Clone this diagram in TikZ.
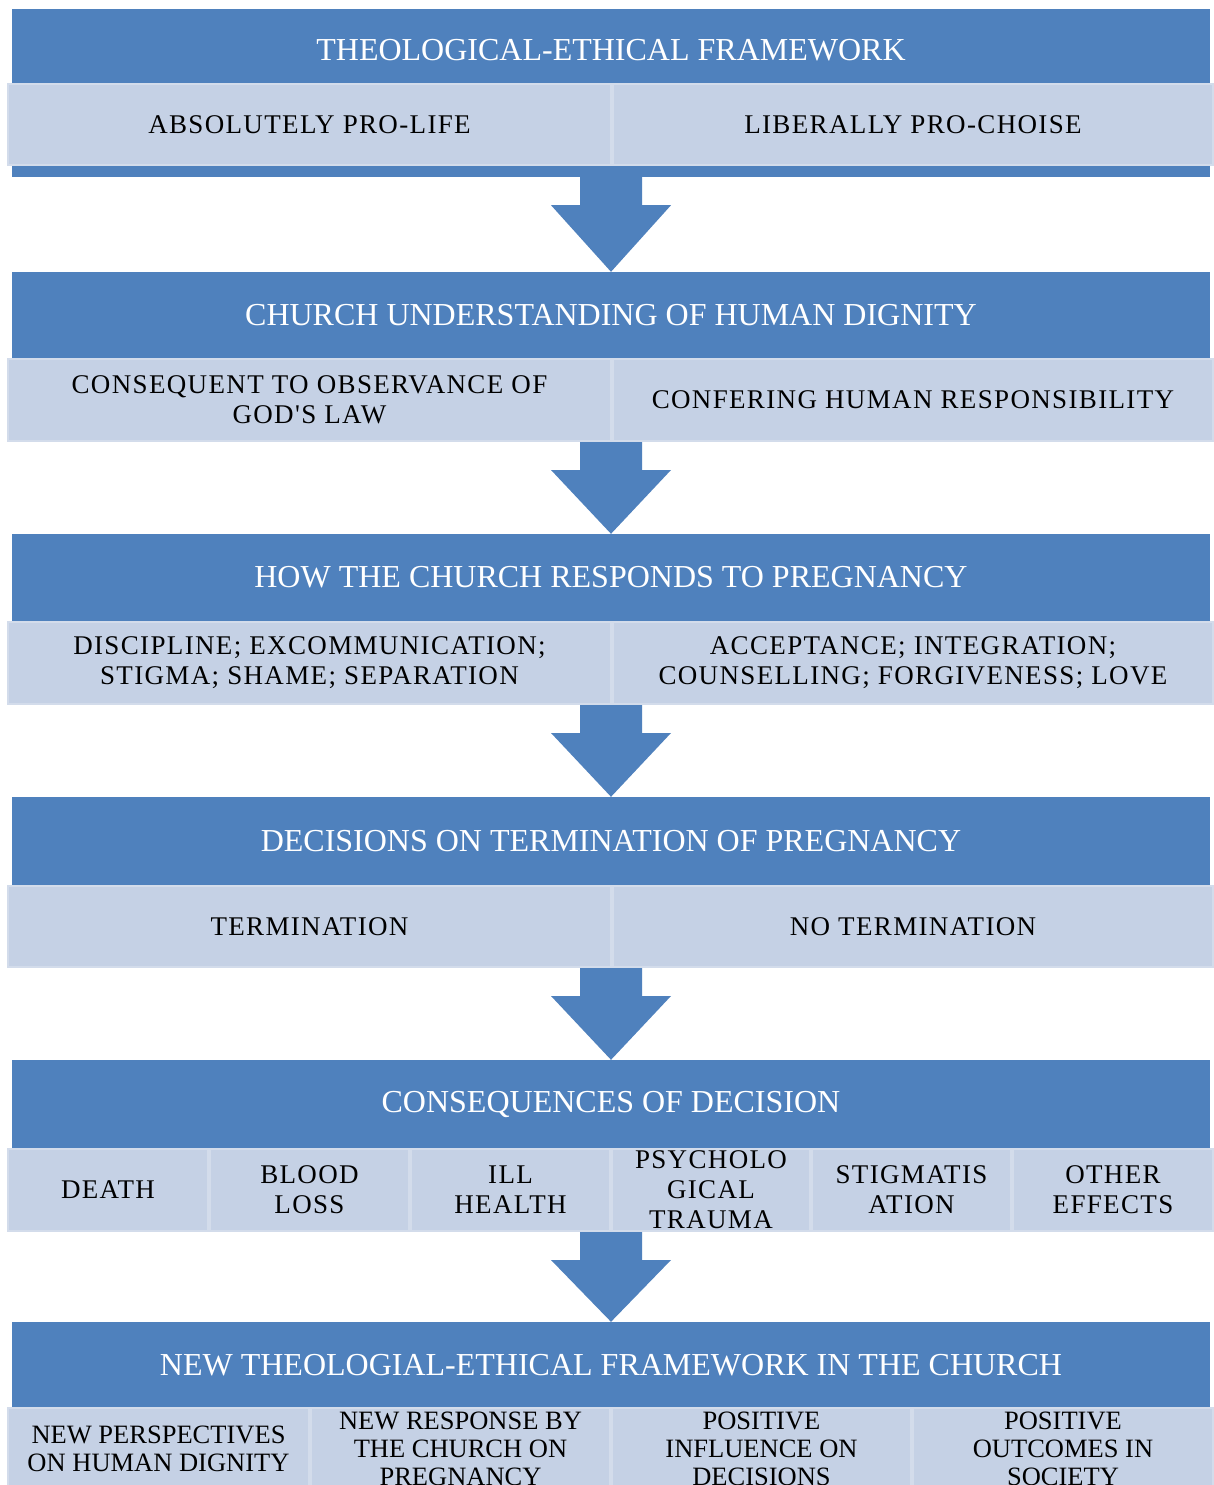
\documentclass[tikz,border=0pt]{standalone}
\usepackage{fontspec}
\setmainfont{Liberation Serif}
\newfontfamily\cellfont[LetterSpace=5]{Liberation Serif}
\usetikzlibrary{calc}
\definecolor{hdrblue}{HTML}{4F81BD}
\definecolor{cellfill}{HTML}{C5D1E5}
\definecolor{cellline}{HTML}{D3DCEB}
\newcommand\blockarr[2]{%
  \path[blockarrow] let \p1=(#1), \p2=(#2) in
    (580pt,\y1) -- (642pt,\y1) -- (642pt,\y1-28pt) -- (671pt,\y1-28pt)
    -- (611pt,\y2) -- (551pt,\y1-28pt) -- (580pt,\y1-28pt) -- cycle;}
\begin{document}
\begin{tikzpicture}[x=1pt,y=-1pt,
  hdr/.style={fill=hdrblue, draw=none, minimum width=1198pt, inner sep=0pt,
    text=white, font=\fontsize{32}{36}\selectfont},
  hdrbase/.style={fill=hdrblue, draw=none, minimum width=1198pt, inner sep=0pt},
  cell/.style={fill=cellfill, draw=cellline, line width=2pt, inner sep=0pt,
    align=center, text=black, font=\cellfont\fontsize{27}{30}\selectfont},
  cellsix/.style={cell, font=\fontsize{26.5}{28}\selectfont},
  blockarrow/.style={fill=hdrblue, draw=none}]
\path[use as bounding box] (0,0) rectangle (1214,1485);
\clip (0,0) rectangle (1214,1485);
\fill[white] (0,0) rectangle (1214,1485);

% Section 1
\node[hdr, minimum height=82pt] (h1) at (611,50) {THEOLOGICAL-ETHICAL FRAMEWORK};
\node[hdrbase, minimum height=94pt] (h1b) at (611,130) {};
\node[cell, minimum width=603pt, minimum height=81pt] (c11) at (309.5,124.5) {ABSOLUTELY PRO-LIFE};
\node[cell, minimum width=600pt, minimum height=81pt] (c12) at (913,124.5) {LIBERALLY PRO-CHOISE};

% Section 2
\node[hdr, minimum height=86pt] (h2) at (611,315) {CHURCH UNDERSTANDING OF HUMAN DIGNITY};
\node[cell, minimum width=603pt, minimum height=82pt] (c21) at (309.5,400) {CONSEQUENT TO OBSERVANCE OF\\GOD'S LAW};
\node[cell, minimum width=600pt, minimum height=82pt] (c22) at (913,400) {CONFERING HUMAN RESPONSIBILITY};

% Section 3
\node[hdr, minimum height=87pt] (h3) at (611,577.5) {HOW THE CHURCH RESPONDS TO PREGNANCY};
\node[cell, minimum width=603pt, minimum height=82pt] (c31) at (309.5,663) {DISCIPLINE; EXCOMMUNICATION;\\STIGMA; SHAME; SEPARATION};
\node[cell, minimum width=600pt, minimum height=82pt] (c32) at (913,663) {ACCEPTANCE; INTEGRATION;\\COUNSELLING; FORGIVENESS; LOVE};

% Section 4
\node[hdr, minimum height=88pt] (h4) at (611,841) {DECISIONS ON TERMINATION OF PREGNANCY};
\node[cell, minimum width=603pt, minimum height=81pt] (c41) at (309.5,926.5) {TERMINATION};
\node[cell, minimum width=600pt, minimum height=81pt] (c42) at (913,926.5) {NO TERMINATION};

% Section 5
\node[hdr, minimum height=88pt] (h5) at (611,1104) {CONSEQUENCES OF DECISION};
\node[cell, minimum width=200pt, minimum height=82pt] (c51) at (108,1190) {DEATH};
\node[cell, minimum width=199pt, minimum height=82pt] (c52) at (309.5,1190) {BLOOD\\LOSS};
\node[cell, minimum width=199pt, minimum height=82pt] (c53) at (510.5,1190) {ILL\\HEALTH};
\node[cell, minimum width=198pt, minimum height=82pt] (c54) at (711,1190) {PSYCHOLO\\GICAL\\TRAUMA};
\node[cell, minimum width=199pt, minimum height=82pt] (c55) at (911.5,1190) {STIGMATIS\\ATION};
\node[cell, minimum width=200pt, minimum height=82pt] (c56) at (1113,1190) {OTHER\\EFFECTS};

% Section 6
\node[hdr, minimum height=86pt] (h6) at (611,1365) {NEW THEOLOGIAL-ETHICAL FRAMEWORK IN THE CHURCH};
\node[cellsix, minimum width=301pt, minimum height=82pt] (c61) at (158.5,1449) {NEW PERSPECTIVES\\ON HUMAN DIGNITY};
\node[cellsix, minimum width=299pt, minimum height=82pt] (c62) at (460.5,1449) {NEW RESPONSE BY\\THE CHURCH ON\\PREGNANCY};
\node[cellsix, minimum width=299pt, minimum height=82pt] (c63) at (761.5,1449) {POSITIVE\\INFLUENCE ON\\DECISIONS};
\node[cellsix, minimum width=300pt, minimum height=82pt] (c64) at (1063,1449) {POSITIVE\\OUTCOMES IN\\SOCIETY};

% Block arrows between sections
\blockarr{h1b.south}{h2.north}
\blockarr{c21.south east}{h3.north}
\blockarr{c31.south east}{h4.north}
\blockarr{c41.south east}{h5.north}
\blockarr{c54.south}{h6.north}
\end{tikzpicture}
\end{document}
